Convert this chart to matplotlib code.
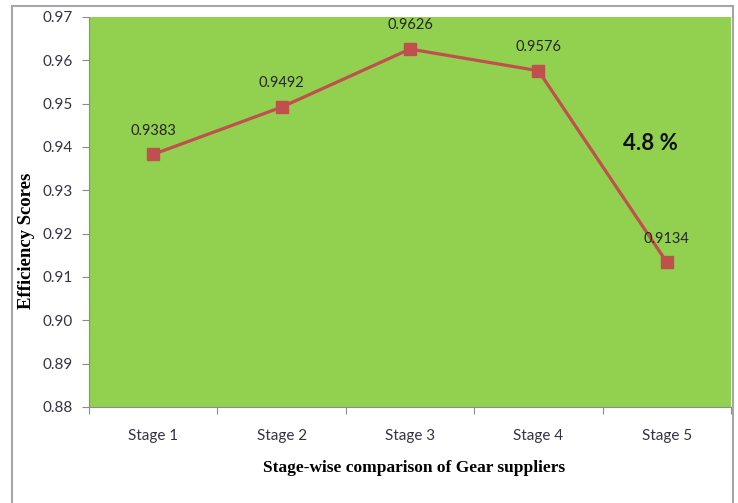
import matplotlib.pyplot as plt
from matplotlib.patches import Rectangle

stages = ["Stage 1", "Stage 2", "Stage 3", "Stage 4", "Stage 5"]
scores = [0.9383, 0.9492, 0.9626, 0.9576, 0.9134]
y_ticks = [0.88, 0.89, 0.90, 0.91, 0.92, 0.93, 0.94, 0.95, 0.96, 0.97]

W, H = 738, 503
fig = plt.figure(figsize=(W / 100, H / 100), dpi=100)
ax = fig.add_axes([89 / W, 1 - 407 / H, (731 - 89) / W, (407 - 17) / H])

# outer chart frame
fig.patches.append(Rectangle((12 / W, -0.01), (733 - 12) / W, 1 - 6 / H + 0.01,
                             transform=fig.transFigure, fill=False,
                             edgecolor="#a6a6a6", linewidth=1.5))

sans = ["Lato", "DejaVu Sans"]

ax.set_facecolor("#92d050")
x = list(range(1, len(stages) + 1))
ax.plot(x, scores, color="#c0504d", linewidth=2.3, marker="s",
        markersize=8, markerfacecolor="#c0504d", markeredgecolor="#c0504d")

for xi, v in zip(x, scores):
    ax.annotate(f"{v:.4f}", (xi, v), xytext=(0, 12), textcoords="offset points",
                ha="center", va="bottom", fontsize=10.5, color="#262626",
                family=sans)

ax.text(4.87, 0.9409, "4.8 %", ha="center", va="center", fontsize=16,
        fontweight="bold", family=sans, color="#111111")

ax.set_xlim(0.5, 5.5)
ax.set_ylim(0.88, 0.97)
ax.set_yticks(y_ticks)
ax.set_yticklabels([f"{t:.2f}" for t in y_ticks], family=sans,
                   fontsize=11, color="#333344")
ax.set_xticks([i + 0.5 for i in range(0, 6)])
ax.set_xticklabels([])
ax.set_xticks(x, minor=True)
ax.set_xticklabels(stages, minor=True, family=sans,
                   fontsize=11, color="#333344")
ax.tick_params(axis="x", which="minor", length=0, pad=16)
ax.tick_params(axis="x", which="major", length=5, color="#8c8c8c")
ax.tick_params(axis="y", length=5, color="#8c8c8c", pad=7)

for side in ["top", "right"]:
    ax.spines[side].set_visible(False)
for side in ["left", "bottom"]:
    ax.spines[side].set_color("#8c8c8c")

ax.set_xlabel("Stage-wise comparison of Gear suppliers", fontsize=12.5,
              fontweight="bold", family="Liberation Serif")
ax.xaxis.set_label_coords(0.506, -0.156)
ax.xaxis.label.set_va("center")
ax.set_ylabel("Efficiency Scores", fontsize=13.5, fontweight="bold",
              family="Liberation Serif")
ax.yaxis.set_label_coords(-0.0966, 0.4256)
ax.yaxis.label.set_va("center")

fig.savefig("out.png", dpi=100)
